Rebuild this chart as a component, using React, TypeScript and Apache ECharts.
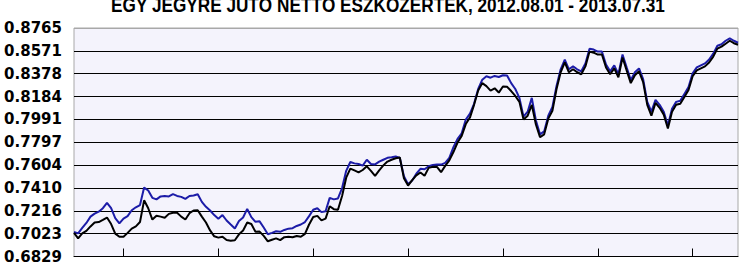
import React, { useEffect, useRef } from 'react';
import * as echarts from 'echarts';

const TITLE = 'EGY JEGYRE JUTÓ NETTÓ ESZKÖZÉRTÉK, 2012.08.01 - 2013.07.31';

const tickValues = [0.6829, 0.7023, 0.7216, 0.741, 0.7604, 0.7797, 0.7991, 0.8184, 0.8378, 0.8571, 0.8765];

const blueValues = [
  0.7038, 0.7025, 0.7071, 0.7113, 0.7167, 0.7192, 0.7209, 0.7238, 0.7284, 0.7238,
  0.7155, 0.7109, 0.715, 0.7171, 0.7221, 0.7246, 0.7265, 0.7413, 0.7388, 0.7326,
  0.7313, 0.7338, 0.7342, 0.7338, 0.7357, 0.7342, 0.7334, 0.7317, 0.7342, 0.7346,
  0.7357, 0.7292, 0.725, 0.7219, 0.718, 0.7149, 0.718, 0.7134, 0.71, 0.7067,
  0.7129, 0.7159, 0.7232, 0.7163, 0.7123, 0.7127, 0.7075, 0.7017, 0.7029, 0.7043,
  0.7038, 0.7054, 0.7065, 0.7069, 0.7088, 0.71, 0.7121, 0.7171, 0.7225, 0.7238,
  0.7205, 0.7213, 0.7326, 0.7313, 0.7321, 0.7409, 0.7555, 0.763, 0.7618, 0.7613,
  0.7599, 0.7649, 0.7613, 0.7609, 0.7633, 0.7649, 0.7665, 0.767, 0.7676, 0.7664,
  0.7509, 0.7442, 0.7472, 0.753, 0.7572, 0.7568, 0.7594, 0.7605, 0.7608, 0.7608,
  0.7622, 0.7664, 0.7755, 0.7826, 0.7872, 0.7989, 0.8039, 0.8123, 0.8248, 0.8327,
  0.8356, 0.8344, 0.8359, 0.835, 0.8365, 0.8363, 0.8298, 0.8248, 0.8173, 0.8014,
  0.8056, 0.8173, 0.7981, 0.7864, 0.7889, 0.8022, 0.8097, 0.8273, 0.8415, 0.8498,
  0.8415, 0.844, 0.8415, 0.8398, 0.8465, 0.859, 0.8582, 0.8565, 0.8565, 0.8456,
  0.8398, 0.8448, 0.8373, 0.854, 0.8431, 0.8323, 0.839, 0.8423, 0.8331, 0.8139,
  0.8056, 0.8156, 0.8114, 0.8056, 0.7939, 0.8081, 0.8139, 0.8148, 0.8206, 0.8264,
  0.8381, 0.8431, 0.8448, 0.8465, 0.8498, 0.8548, 0.8615, 0.8627, 0.8657, 0.8677,
  0.8657, 0.864,
];

const blackValues = [
  0.7029, 0.6983, 0.7025, 0.7046, 0.7084, 0.7117, 0.7121, 0.7139, 0.7159, 0.7104,
  0.7023, 0.6996, 0.6996, 0.7029, 0.7065, 0.7084, 0.7121, 0.7305, 0.7238, 0.7142,
  0.7175, 0.7167, 0.7157, 0.719, 0.72, 0.72, 0.7167, 0.7142, 0.7196, 0.7219,
  0.7221, 0.7167, 0.7117, 0.705, 0.7, 0.6989, 0.6996, 0.6968, 0.6963, 0.6967,
  0.7017, 0.705, 0.7117, 0.7104, 0.7038, 0.704, 0.7004, 0.6958, 0.6971, 0.6983,
  0.6968, 0.6993, 0.6996, 0.6992, 0.7002, 0.6996, 0.7021, 0.71, 0.7163, 0.7173,
  0.7135, 0.715, 0.7255, 0.723, 0.7225, 0.7342, 0.7497, 0.7574, 0.7558, 0.7541,
  0.7562, 0.7593, 0.7555, 0.7512, 0.7559, 0.7601, 0.7633, 0.7649, 0.7661, 0.7668,
  0.7492, 0.743, 0.7476, 0.7516, 0.7541, 0.7513, 0.758, 0.759, 0.7588, 0.7543,
  0.7597, 0.7644, 0.7714, 0.7795, 0.7851, 0.7951, 0.8006, 0.8114, 0.8235, 0.8298,
  0.8273, 0.8235, 0.8254, 0.8218, 0.8269, 0.8267, 0.8231, 0.8189, 0.8139, 0.7989,
  0.8022, 0.8114, 0.7947, 0.7839, 0.7864, 0.7997, 0.8064, 0.8248, 0.839, 0.8473,
  0.839, 0.8415, 0.839, 0.8373, 0.844, 0.8565, 0.8556, 0.854, 0.854, 0.8431,
  0.8373, 0.8423, 0.8348, 0.8515, 0.8406, 0.8298, 0.8365, 0.8398, 0.8306, 0.8114,
  0.8022, 0.8131, 0.8089, 0.8031, 0.7914, 0.8056, 0.8114, 0.8123, 0.8181, 0.8239,
  0.8356, 0.8406, 0.8423, 0.844, 0.8473, 0.8523, 0.859, 0.8607, 0.8632, 0.8657,
  0.8636, 0.8623,
];

const categories = blackValues.map((_, i) => String(i + 1));

const splitColors = tickValues.map((_, i) => (i === tickValues.length - 1 ? '#a8a8a8' : '#000000'));

export default function App() {
  const ref = useRef<HTMLDivElement>(null);
  useEffect(() => {
    if (!ref.current) return;
    const chart = echarts.init(ref.current, undefined, { renderer: 'svg' });
    chart.setOption({
      animation: false,
      backgroundColor: '#ffffff',
      graphic: [
        {
          type: 'text',
          x: 388,
          y: -5,
          scaleX: 0.86,
          style: {
            text: TITLE,
            textAlign: 'center',
            textVerticalAlign: 'top',
            fill: '#000',
            font: "bold 20px 'Liberation Sans', Arial, sans-serif",
          },
        },
      ],
      grid: {
        left: 74,
        right: 1,
        top: 28,
        bottom: 4,
        show: true,
        backgroundColor: '#f4f3fc',
        borderColor: '#a8a8a8',
        borderWidth: 1,
      },
      xAxis: {
        type: 'category',
        data: categories,
        boundaryGap: false,
        axisLine: { show: true, lineStyle: { color: '#000', width: 1 } },
        axisTick: {
          show: true,
          inside: true,
          length: 8,
          interval: (i: number) => i % 23 === 12,
          lineStyle: { color: '#000', width: 1 },
        },
        axisLabel: { show: false },
        splitLine: { show: false },
      },
      yAxis: {
        type: 'value',
        min: 0.6829,
        max: 0.8765,
        axisLine: { show: false },
        axisTick: { show: false, customValues: tickValues },
        axisLabel: {
          show: true,
          customValues: tickValues,
          formatter: (v: number) => v.toFixed(4),
          margin: 12,
          color: '#000',
          fontFamily: "'DejaVu Sans', sans-serif",
          fontWeight: 'bold',
          fontSize: 15,
        },
        splitLine: { show: true, lineStyle: { color: splitColors, width: 1 } },
      },
      series: [
        {
          type: 'line',
          data: blueValues,
          symbol: 'none',
          lineStyle: { color: '#1c1ca8', width: 2 },
          silent: true,
        },
        {
          type: 'line',
          data: blackValues,
          symbol: 'none',
          lineStyle: { color: '#000000', width: 2 },
          silent: true,
        },
      ],
    });
    return () => chart.dispose();
  }, []);
  return (
    <div
      ref={ref}
      style={{ position: 'fixed', left: 0, top: 0, width: 739, height: 264, background: '#fff' }}
    />
  );
}
